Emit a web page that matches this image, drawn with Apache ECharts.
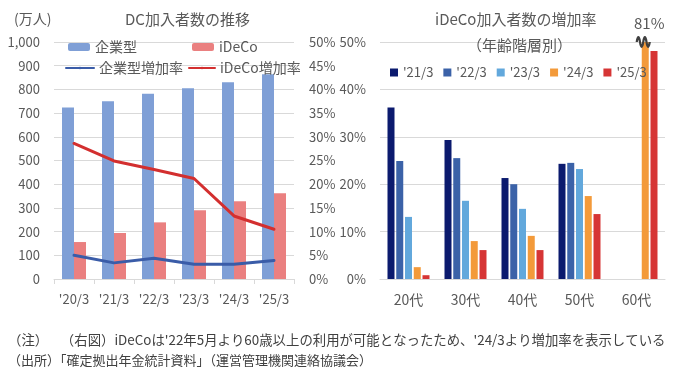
<!DOCTYPE html>
<html>
<head>
<meta charset="utf-8">
<script src="https://cdn.jsdelivr.net/npm/echarts@6/dist/echarts.min.js"></script>
<style>
  html, body { margin: 0; padding: 0; background: #fff; }
  #chart { width: 683px; height: 377px; }
</style>
</head>
<body>
<div id="chart"></div>
<script>
// DC加入者数（左）と iDeCo年齢階層別増加率（右）

const dcCategories = ["'20/3", "'21/3", "'22/3", "'23/3", "'24/3", "'25/3"];
const kigyoMembers = [724, 750, 782, 805, 830, 864];   // 万人
const idecoMembers = [156, 194, 239, 290, 328, 362];   // 万人
const kigyoRate = [5.0, 3.4, 4.4, 3.1, 3.1, 3.9];      // %
const idecoRate = [28.6, 24.9, 23.1, 21.2, 13.3, 10.5]; // %

const ageGroups = ['20代', '30代', '40代', '50代', '60代'];
const yearNames = ["'21/3", "'22/3", "'23/3", "'24/3", "'25/3"];
const rate21 = [36.2, 29.3, 21.3, 24.3, null];
const rate22 = [24.9, 25.5, 20.0, 24.5, null];
const rate23 = [13.1, 16.5, 14.8, 23.2, null];
const rate24 = [2.5, 8.0, 9.1, 17.5, 81];
const rate25 = [0.8, 6.1, 6.1, 13.7, 48.1];

const leftTicks = [0, 1000, 100];   // min, max, interval
const rateTicks = [0, 50, 5];
const ageTicks = [0, 50, 10];

let font = "'Noto Sans CJK JP', 'Noto Sans', sans-serif";
let gray = '#595959';
let gridColor = '#d9d9d9';
let yearColors = ['#0b1a6e', '#3b62a8', '#62a8dc', '#f39a3a', '#d63535'];
let ageRates = [rate21, rate22, rate23, rate24, rate25];

function legendItem(name, left, top, w, h) {
  return {
    data: [name], left: left, top: top,
    itemWidth: w, itemHeight: h, selectedMode: false,
    textStyle: { color: gray, fontSize: 14, fontFamily: font }
  };
}

let ageSeries = yearNames.map(function (n, i) {
  let s = {
    name: n, type: 'bar', xAxisIndex: 1, yAxisIndex: 2,
    barWidth: 7, barGap: '25%',
    itemStyle: { color: yearColors[i] },
    data: ageRates[i]
  };
  if (i === 3) {
    // 60代'24/3 は軸上限を超えるので波線で省略し値を表示
    let top = ageRates[i][4];
    s.markPoint = {
      symbol: 'path://M0,5 C1.5,0 3.5,0 5,5 C6.5,10 8.5,10 10,5 C11.5,0 13.5,0 15,5 C16.5,10 18.5,10 20,5',
      symbolSize: [13, 10],
      symbolOffset: [-2, 0],
      itemStyle: { color: 'rgba(0,0,0,0)', borderColor: '#404040', borderWidth: 2 },
      label: {
        show: true, position: 'top', offset: [6, 0],
        formatter: top + '%', color: gray, fontSize: 15, fontFamily: font
      },
      data: [{ coord: [ageGroups[4], ageTicks[1]] }]
    };
  }
  return s;
});

let option = {
  animation: false,
  backgroundColor: '#fff',
  title: [
    { text: 'DC加入者数の推移', left: 120, top: 7, textStyle: { color: gray, fontSize: 15, fontWeight: 'normal', fontFamily: font } },
    { text: '(万人)', left: 9, top: 7, textStyle: { color: gray, fontSize: 14, fontWeight: 'normal', fontFamily: font } },
    { text: 'iDeCo加入者数の増加率', left: 430, top: 7, textStyle: { color: gray, fontSize: 15, fontWeight: 'normal', fontFamily: font } },
    { text: '（年齢階層別）', left: 462, top: 33, textStyle: { color: gray, fontSize: 15, fontWeight: 'normal', fontFamily: font } }
  ],
  legend: [
    legendItem('企業型', 63, 35, 22, 8),
    legendItem('iDeCo', 187, 35, 22, 8),
    legendItem('企業型増加率', 60, 56, 28, 3),
    legendItem('iDeCo増加率', 183, 56, 26, 3),
    {
      data: yearNames, left: 385, top: 61, itemWidth: 8, itemHeight: 8, itemGap: 10,
      icon: 'rect', selectedMode: false,
      textStyle: { color: gray, fontSize: 13, fontFamily: font }
    }
  ],
  grid: [
    { left: 54, top: 42, width: 240, height: 237 },
    { left: 380, top: 42, width: 285, height: 237 }
  ],
  xAxis: [
    {
      type: 'category', gridIndex: 0, data: dcCategories,
      axisLine: { lineStyle: { color: gridColor } },
      axisTick: { show: true, length: 5, lineStyle: { color: gridColor } },
      axisLabel: { color: gray, fontSize: 13, fontFamily: font, margin: 14 }
    },
    {
      type: 'category', gridIndex: 1, data: ageGroups,
      axisLine: { lineStyle: { color: gridColor } },
      axisTick: { show: false },
      axisLabel: { color: gray, fontSize: 14, fontFamily: font, margin: 14 }
    }
  ],
  yAxis: [
    {
      type: 'value', gridIndex: 0, min: leftTicks[0], max: leftTicks[1], interval: leftTicks[2],
      axisLine: { show: false }, axisTick: { show: false },
      splitLine: { lineStyle: { color: gridColor } },
      axisLabel: {
        color: gray, fontSize: 13, fontFamily: font, margin: 14,
        formatter: function (v) { return v.toLocaleString('en-US'); }
      }
    },
    {
      type: 'value', gridIndex: 0, position: 'right', min: rateTicks[0], max: rateTicks[1], interval: rateTicks[2],
      axisLine: { show: false }, axisTick: { show: false }, splitLine: { show: false },
      axisLabel: { color: gray, fontSize: 13, fontFamily: font, margin: 15, formatter: '{value}%' }
    },
    {
      type: 'value', gridIndex: 1, min: ageTicks[0], max: ageTicks[1], interval: ageTicks[2],
      axisLine: { show: false }, axisTick: { show: false },
      splitLine: { lineStyle: { color: gridColor } },
      axisLabel: { color: gray, fontSize: 13, fontFamily: font, margin: 14, formatter: '{value}%' }
    }
  ],
  series: [
    {
      name: '企業型', type: 'bar', xAxisIndex: 0, yAxisIndex: 0,
      barWidth: 12, barGap: '0%', itemStyle: { color: '#7f9fd6' }, data: kigyoMembers
    },
    {
      name: 'iDeCo', type: 'bar', xAxisIndex: 0, yAxisIndex: 0,
      barWidth: 12, barGap: '0%', itemStyle: { color: '#ea8080' }, data: idecoMembers
    },
    {
      name: '企業型増加率', type: 'line', xAxisIndex: 0, yAxisIndex: 1, symbol: 'none',
      lineStyle: { color: '#3a5ca8', width: 3, cap: 'round', join: 'round' },
      itemStyle: { color: '#3a5ca8' }, data: kigyoRate
    },
    {
      name: 'iDeCo増加率', type: 'line', xAxisIndex: 0, yAxisIndex: 1, symbol: 'none',
      lineStyle: { color: '#d32f2f', width: 3, cap: 'round', join: 'round' },
      itemStyle: { color: '#d32f2f' }, data: idecoRate
    }
  ].concat(ageSeries),
  graphic: [
    {
      type: 'text', left: 8, top: 333,
      style: { text: '（注）　  （右図）iDeCoは\'22年5月より60歳以上の利用が可能となったため、\'24/3より増加率を表示している', fill: '#404040', fontSize: 13.4, fontFamily: font }
    },
    {
      type: 'text', left: 8, top: 354,
      style: { text: '（出所）「確定拠出年金統計資料」（運営管理機関連絡協議会）', fill: '#404040', fontSize: 13, fontFamily: font }
    }
  ]
};

let myChart = echarts.init(document.getElementById('chart'));
myChart.setOption(option);
</script>
</body>
</html>
